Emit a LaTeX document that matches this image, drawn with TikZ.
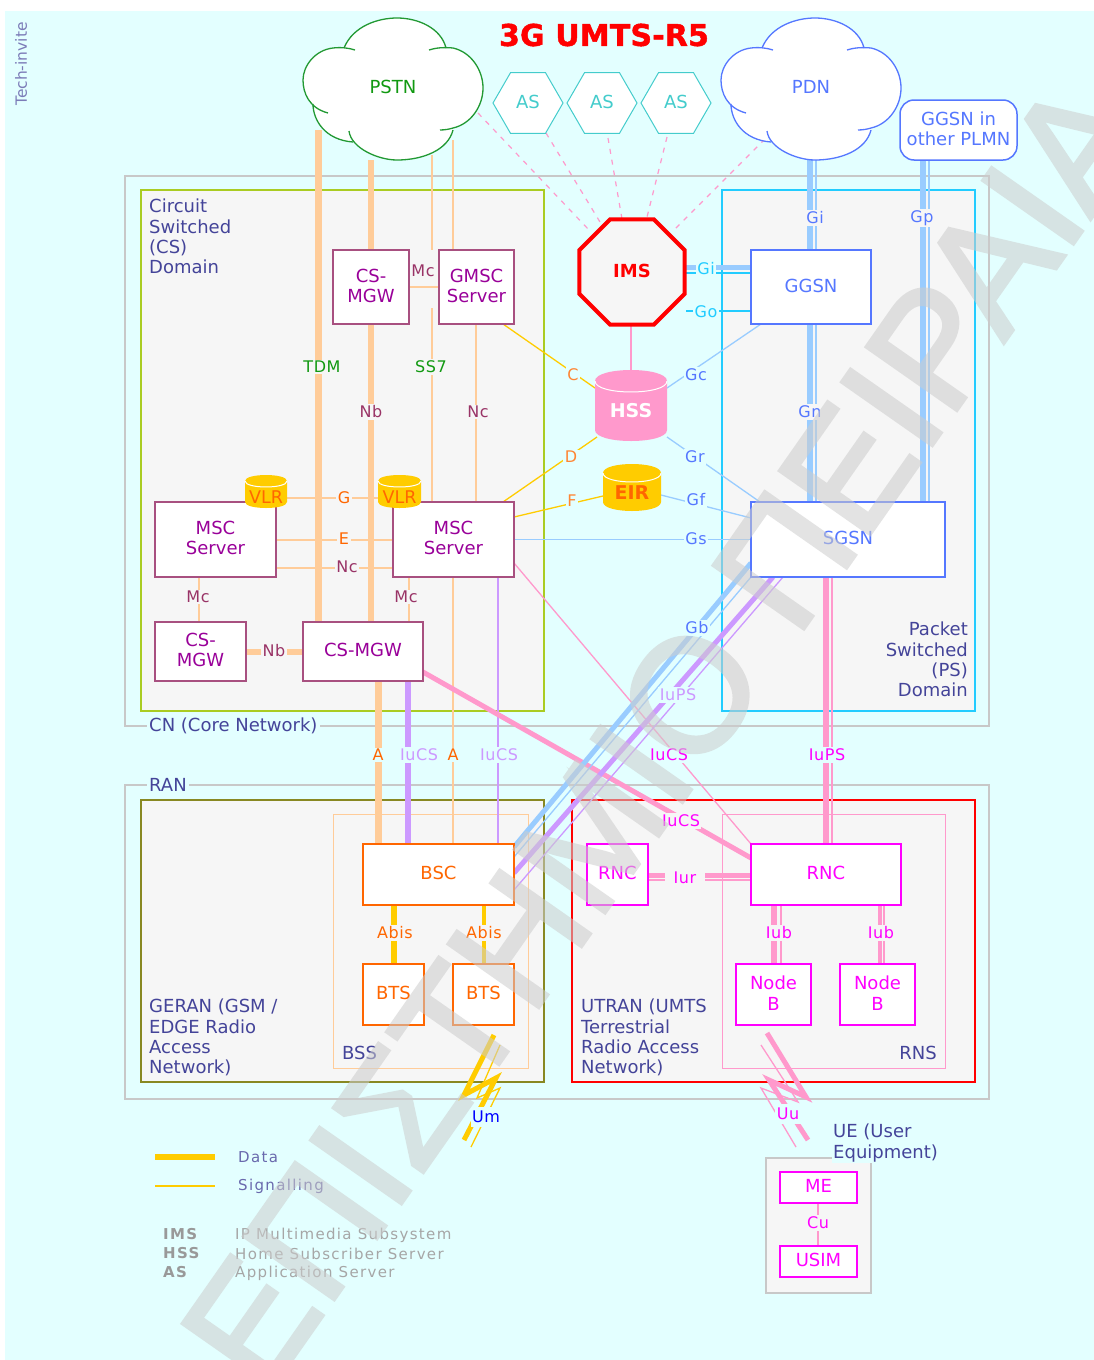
\documentclass[tikz,border=0pt]{standalone}
\usepackage{fontspec}
\setmainfont{DejaVu Sans}
\newfontfamily\wmfont[FakeBold=2.5]{Liberation Sans}
\newfontfamily\lsfont[LetterSpace=9]{DejaVu Sans}
\newfontfamily\lbfont[LetterSpace=3.5]{DejaVu Sans}
\newfontfamily\ttlfont[LetterSpace=0.5,BoldFeatures={FakeBold=1.5}]{DejaVu Sans}
\usetikzlibrary{shapes.geometric}
\definecolor{bgc}{HTML}{E3FFFF}
\definecolor{panel}{HTML}{F6F6F6}
\definecolor{frameg}{HTML}{C8C8C8}
\definecolor{dtext}{HTML}{444499}
\definecolor{csb}{HTML}{A85080}
\definecolor{csl}{HTML}{993366}
\definecolor{cst}{HTML}{990099}
\definecolor{lorange}{HTML}{FFCC99}
\definecolor{yel}{HTML}{FFCC00}
\definecolor{lblue}{HTML}{99CCFF}
\definecolor{lpurple}{HTML}{CC99FF}
\definecolor{lpink}{HTML}{FF99CC}
\definecolor{cyn}{HTML}{22CCFF}
\definecolor{blu}{HTML}{5577FF}
\definecolor{org}{HTML}{FF6600}
\definecolor{mag}{HTML}{FF00FF}
\definecolor{grn}{HTML}{119911}
\definecolor{grnc}{HTML}{229933}
\definecolor{aqua}{HTML}{44CCCC}
\definecolor{csframe}{HTML}{AACC22}
\definecolor{gerframe}{HTML}{888822}
\newcommand\bxf{\fontsize{18}{20.3}\selectfont}
\newcommand\lbf{\lbfont\fontsize{16}{18}\selectfont}
\newcommand\smf{\lsfont\fontsize{15}{18}\selectfont}
\tikzset{
 x=1pt,y=-1pt,
 basebox/.style={fill=white,font=\bxf,align=center,inner sep=0pt,outer sep=0pt,line width=1.5pt,text depth=3pt},
 csbox/.style={basebox,draw=csb,text=cst},
 psbox/.style={basebox,draw=blu,text=blu},
 orbox/.style={basebox,draw=org,text=org},
 mgbox/.style={basebox,draw=mag,text=mag},
 panelbox/.style={fill=panel,line width=1.5pt},
 anchorbox/.style={inner sep=0pt,outer sep=0pt},
 thicka/.style={line width=7pt},
 thickb/.style={line width=6pt},
 thickc/.style={line width=5pt},
 thin1/.style={line width=1.3pt},
 lab/.style={font=\lbf,inner sep=1.5pt,fill=bgc},
 labp/.style={font=\lbf,inner sep=1.5pt,fill=panel},
 dom/.style={font=\bxf,text=dtext,inner sep=0pt},
 imsdash/.style={lpink,line width=1.2pt,dash pattern=on 5pt off 6pt},
 ashex/.style={regular polygon,regular polygon sides=6,minimum size=70pt,inner sep=0pt,outer sep=0pt,draw=aqua,fill=white,line width=1pt,text=aqua,font=\bxf,text depth=3pt},
}
\newcommand\cloudshape[1]{%
 \fill[white] (-49,-40) .. controls (-40,-62) and (-15,-70) .. (4,-70) .. controls (25,-70) and (48,-60) .. (53,-40) -- cycle;
 \fill[white] (-63,-40) .. controls (-78,-38) and (-90,-22) .. (-90,-8) .. controls (-90,5) and (-84,20) .. (-65,25) -- cycle;
 \fill[white] (-80,16) .. controls (-80,32) and (-68,52) .. (-40,54) -- cycle;
 \fill[white] (-44,43) .. controls (-42,60) and (-15,72) .. (4,72) .. controls (30,72) and (55,62) .. (60,42) -- cycle;
 \fill[white] (60,-40) .. controls (78,-36) and (90,-18) .. (90,0) .. controls (90,18) and (78,36) .. (60,40) -- cycle;
 \fill[white] (-63,-40) -- (60,-40) -- (60,42) -- (-44,50) -- (-75,30) -- cycle;
 \draw[#1,line width=1.3pt] (-49,-40) .. controls (-40,-62) and (-15,-70) .. (4,-70) .. controls (25,-70) and (48,-60) .. (53,-40);
 \draw[#1,line width=1.3pt] (-38,-38) .. controls (-44,-40) and (-52,-41) .. (-60,-40) .. controls (-78,-38) and (-90,-22) .. (-90,-8) .. controls (-90,5) and (-84,20) .. (-65,25);
 \draw[#1,line width=1.3pt] (-80,16) .. controls (-80,32) and (-68,52) .. (-40,54);
 \draw[#1,line width=1.3pt] (-44,43) .. controls (-42,60) and (-15,72) .. (4,72) .. controls (30,72) and (55,62) .. (60,42);
 \draw[#1,line width=1.3pt] (36,-38) .. controls (42,-40) and (50,-41) .. (60,-40) .. controls (78,-36) and (90,-18) .. (90,0) .. controls (90,18) and (78,36) .. (60,40) .. controls (57,41) and (52,42) .. (47,42);
}
% name, left, right, top, bottom, ry, colour, text colour, label
\newcommand\dbcyl[9]{%
 \fill[#7] (#2,#4+#6) .. controls (#2,#4-#6/3) and (#3,#4-#6/3) .. (#3,#4+#6) -- (#3,#5-#6) .. controls (#3,#5+#6/3) and (#2,#5+#6/3) .. (#2,#5-#6) -- cycle;
 \draw[white,line width=1pt] (#2,#4+#6) .. controls (#2,#4+#6+#6*1.33) and (#3,#4+#6+#6*1.33) .. (#3,#4+#6);
 \node[inner sep=0pt,minimum width=#3pt-#2pt,minimum height=#5pt-#4pt,text=#8,yshift=-5.5pt] (#1) at ({(#2+#3)/2},{(#4+#5)/2}) {#9};
}
\begin{document}
\begin{tikzpicture}
\useasboundingbox (0,0) rectangle (1094,1360);
\fill[white] (0,0) rectangle (1094,1360);
\fill[bgc] (5,11) rectangle (1094,1360);
\node[rotate=90,font=\fontsize{15.5}{17}\selectfont,text=dtext!70,inner sep=0pt] (tech) at (21,64) {Tech-invite};
% guides
\foreach \n in {318,371,378,394,408,432,453,476,484,498,199,409,631,774,781,810,816,818,826,832,880,884,923,929}{\coordinate (v\n) at (\n,0);}
\foreach \n in {267,273,311,498,540,568,651,875,880}{\coordinate (h\n) at (0,\n);}
% frames
\draw[frameg,line width=1.5pt] (125,176) rectangle (989,726);
\draw[frameg,line width=1.5pt] (125,785) rectangle (989,1099);
\draw[panelbox,draw=csframe] (141,190) rectangle (544,711);
\draw[panelbox,draw=cyn] (722,190) rectangle (975,711);
\draw[panelbox,draw=gerframe] (141,800) rectangle (544,1082);
\draw[panelbox,draw=red] (572,800) rectangle (975,1082);
\draw[lorange,line width=1pt] (333,814) rectangle (528,1068);
\draw[lpink,line width=1pt] (722,814) rectangle (945,1068);
% panels' captions
\node[dom,align=left,anchor=north west] (csd) at (149,199) {Circuit\\Switched\\(CS)\\Domain};
\node[dom,align=right,anchor=north east] (psd) at (968,622) {Packet\\Switched\\(PS)\\Domain};
\node[dom,fill=bgc,inner sep=2pt,anchor=west] (cnl) at (147,726) {CN (Core Network)};
\node[dom,fill=bgc,inner sep=2pt,anchor=west] (ranl) at (147,785) {RAN};
\node[dom,align=left,anchor=north west] (ger) at (149,999) {GERAN (GSM /\\EDGE Radio\\Access\\Network)};
\node[dom,align=left,anchor=north west] (utr) at (581,999) {UTRAN (UMTS\\Terrestrial\\Radio Access\\Network)};
\node[dom,anchor=west] (bssl) at (342,1053) {BSS};
\node[dom,anchor=east] (rnsl) at (937,1053) {RNS};
% invisible anchors so that connectors can run under the boxes
\begin{scope}[every node/.append style={anchorbox}]
\node[minimum width=180pt,minimum height=142pt] (pstn) at (393,89) {};
\node[minimum width=180pt,minimum height=142pt] (pdn) at (811,89) {};
\node[minimum width=117pt,minimum height=60pt] (oth) at (958.5,130) {};
\node[minimum width=108pt,minimum height=106pt] (imsb) at (632,272) {};
\node[minimum width=76pt,minimum height=74pt] (mgwt) at (371,287) {};
\node[minimum width=75pt,minimum height=74pt] (gmsc) at (476.5,287) {};
\node[minimum width=120pt,minimum height=74pt] (ggsn) at (811,287) {};
\node[minimum width=72pt,minimum height=71pt] (hssb) at (631,405.5) {};
\node[minimum width=58pt,minimum height=47pt] (eirb) at (632,487.5) {};
\node[minimum width=121pt,minimum height=75pt] (msca) at (215.5,539.5) {};
\node[minimum width=121pt,minimum height=75pt] (mscb) at (453.5,539.5) {};
\node[minimum width=194pt,minimum height=75pt] (sgsn) at (848,539.5) {};
\node[minimum width=91pt,minimum height=59pt] (mgwl) at (200.5,651.5) {};
\node[minimum width=120pt,minimum height=59pt] (mgwb) at (363,651.5) {};
\node[minimum width=151pt,minimum height=61pt] (bsc) at (438.5,874.5) {};
\node[minimum width=61pt,minimum height=61pt] (rnca) at (617.5,874.5) {};
\node[minimum width=150pt,minimum height=61pt] (rncb) at (826,874.5) {};
\node[minimum width=61pt,minimum height=61pt] (btsa) at (393.5,994.5) {};
\node[minimum width=61pt,minimum height=61pt] (btsb) at (483.5,994.5) {};
\node[minimum width=75pt,minimum height=61pt] (nba) at (773.5,994.5) {};
\node[minimum width=75pt,minimum height=61pt] (nbb) at (877.5,994.5) {};
\node[minimum width=77pt,minimum height=31pt] (me) at (818.5,1187.5) {};
\node[minimum width=77pt,minimum height=31pt] (usim) at (818.5,1261.5) {};
\node[minimum width=42pt,minimum height=33pt] (vlra) at (266,491.5) {};
\node[minimum width=43pt,minimum height=33pt] (vlrb) at (399.5,491.5) {};
\node[minimum width=70pt,minimum height=60pt] (asa) at (528,103) {};
\node[minimum width=70pt,minimum height=60pt] (asb) at (602,103) {};
\node[minimum width=70pt,minimum height=60pt] (asc) at (676,103) {};
\end{scope}
% dashed IMS links
\draw[imsdash] ([xshift=85pt,yshift=-24pt]pstn.center) -- ([xshift=-43pt,yshift=42pt]imsb.center);
\draw[imsdash] ([xshift=18pt]asa.south) -- ([xshift=-32pt,yshift=-3pt]imsb.north);
\draw[imsdash] ([xshift=6pt,yshift=-5pt]asb.south) -- ([xshift=-10pt]imsb.north);
\draw[imsdash] ([xshift=-9pt,yshift=-4pt]asc.south) -- ([xshift=15pt,yshift=2pt]imsb.north);
\draw[imsdash] ([xshift=-46pt,yshift=21pt]pdn.south) -- ([xshift=40pt,yshift=-13pt]imsb.north);
% circuit side connectors
\draw[lorange,thicka] ([yshift=30pt]pstn.south -| v318) -- (mgwb.north -| v318);
\draw[lorange,thickb] (pstn.south -| v371) -- (mgwt.north -| v371);
\draw[lorange,thickb] (mgwt.south -| v371) -- (mgwb.north -| v371);
\draw[lorange,thin1] ([yshift=5pt]pstn.south -| v432) -- (mgwt.north -| v432);
\coordinate (ssgap) at (432,308);
\draw[lorange,thin1] (ssgap) -- (mscb.north -| v432);
\draw[lorange,thin1] ([yshift=20pt]pstn.south -| v453) -- (gmsc.north -| v453);
\draw[lorange,thin1] (mgwt.east) -- (gmsc.west);
\draw[lorange,thin1] (gmsc.south -| v476) -- (mscb.north -| v476);
\draw[lorange,thin1] (vlra.east |- h498) -- (vlrb.west |- h498);
\draw[lorange,thin1] (msca.east |- h540) -- (mscb.west |- h540);
\draw[lorange,thin1] (msca.east |- h568) -- (mscb.west |- h568);
\draw[lorange,thin1] (msca.south -| v199) -- (mgwl.north -| v199);
\draw[lorange,thin1] (mscb.south -| v409) -- (mgwb.north -| v409);
\draw[lorange,thickb] (mgwl.east) -- (mgwb.west);
\draw[yel,thin1] ([xshift=26.5pt]gmsc.south) -- ([yshift=17.5pt]hssb.west);
\draw[yel,thin1] ([xshift=49.5pt]mscb.north) -- ([xshift=2pt,yshift=-31.5pt]hssb.west);
\draw[yel,thin1] ([yshift=22.5pt]mscb.east) -- ([yshift=-8.5pt]eirb.west);
\draw[lblue,thin1] (mscb.east) -- (sgsn.west);
\draw[lblue,thin1] ([yshift=-31.5pt]hssb.east) -- ([xshift=-88pt]sgsn.north);
\draw[lblue,thin1] ([yshift=17.5pt]hssb.east) -- ([xshift=-50pt]ggsn.south);
\draw[lblue,thin1] ([yshift=-7.5pt]eirb.east) -- ([yshift=21.5pt]sgsn.west);
\draw[lpink,thin1] (imsb.south -| v631) -- (hssb.north -| v631);
% IMS - GGSN
\draw[lblue,thickc] (imsb.east |- h267) -- (ggsn.west |- h267);
\draw[cyn,thin1] (imsb.east |- h273) -- (ggsn.west |- h273);
\draw[cyn,thin1] (imsb.east |- h311) -- (ggsn.west |- h311);
% packet side
\draw[lblue,thickb] (pdn.south -| v810) -- (ggsn.north -| v810);
\draw[lblue,thin1] (pdn.south -| v816) -- (ggsn.north -| v816);
\draw[lblue,thickb] (ggsn.south -| v810) -- (sgsn.north -| v810);
\draw[lblue,thin1] (ggsn.south -| v816) -- (sgsn.north -| v816);
\draw[lblue,thickb] (oth.south -| v923) -- (sgsn.north -| v923);
\draw[lblue,thin1] (oth.south -| v929) -- (sgsn.north -| v929);
% CN - RAN
\draw[lorange,thicka] (mgwb.south -| v378) -- (bsc.north -| v378);
\draw[lpurple,thickb] (mgwb.south -| v408) -- (bsc.north -| v408);
\draw[lorange,thin1] (mscb.south -| v453) -- (bsc.north -| v453);
\draw[lpurple,thin1] (mscb.south -| v498) -- (bsc.north -| v498);
\draw[lpink,thickc] ([yshift=-20.5pt]mgwb.east) -- ([yshift=16.5pt]rncb.west);
\draw[lpink,thin1] ([yshift=-23.5pt]mscb.east) -- (rncb.north west);
\draw[lpink,thickb] (sgsn.south -| v826) -- (rncb.north -| v826);
\draw[lpink,thin1] (sgsn.south -| v832) -- (rncb.north -| v832);
\draw[lblue,thickc] ([yshift=27.5pt]bsc.east) -- ([yshift=-23.5pt]sgsn.west);
\draw[lblue,thin1] ([yshift=17.5pt]bsc.east) -- (sgsn.south west);
\draw[lpurple,thickc] ([yshift=1.5pt]bsc.east) -- ([xshift=-75pt]sgsn.south);
\draw[lpurple,thin1] ([yshift=-15.5pt]bsc.east) -- ([xshift=-65pt]sgsn.south);
% RAN internal
\draw[lpink,thickc] (rnca.east |- h875) -- (rncb.west |- h875);
\draw[lpink,thin1] (rnca.east |- h880) -- (rncb.west |- h880);
\draw[lpink,thickb] (rncb.south -| v774) -- (nba.north -| v774);
\draw[lpink,thin1] (rncb.south -| v781) -- (nba.north -| v781);
\draw[lpink,line width=4pt] (rncb.south -| v880) -- (nbb.north -| v880);
\draw[lpink,thin1] (rncb.south -| v884) -- (nbb.north -| v884);
\draw[yel,thickb] (bsc.south -| v394) -- (btsa.north -| v394);
\draw[yel,line width=4pt] (bsc.south -| v484) -- (btsb.north -| v484);
% radio links
\coordinate (umt) at (464,1140); \coordinate (umn) at (471,1147);
\coordinate (uut) at (808,1140); \coordinate (uun) at (796,1147);
\draw[yel,thickc,line join=miter] ([xshift=10.5pt,yshift=-10pt]btsb.south) -- (464,1095) -- (496,1078) -- (umt);
\draw[yel,thin1] ([xshift=16.5pt,yshift=-20pt]btsb.south) -- (477,1098) -- (500,1088) -- (umn);
\draw[lpink,thickc,line join=miter] ([xshift=-6.5pt,yshift=-8pt]nba.south) -- (806,1097) -- (769,1080) -- (uut);
\draw[lpink,thin1] ([xshift=-12.5pt,yshift=-20pt]nba.south) -- (798,1102) -- (761,1088) -- (uun);
% connector labels
\node[labp,text=grn] (ltdm) at (322,367) {TDM};
\node[labp,text=grn] (lss7) at (431,367) {SS7};
\node[labp,text=csl] (lnb) at (371,412) {Nb};
\node[labp,text=csl] (lnc) at (478,412) {Nc};
\node[labp,text=csl] (lmc) at (423,271) {Mc};
\node[labp,text=org] (lg) at (344,498) {G};
\node[labp,text=org] (le) at (344,539) {E};
\node[labp,text=csl] (lnc2) at (347,567) {Nc};
\node[labp,text=csl] (lmca) at (198,597) {Mc};
\node[labp,text=csl] (lmcb) at (406,597) {Mc};
\node[labp,text=csl] (lnb2) at (274,651) {Nb};
\node[lab,text=org!80!white] (lc) at (573,375) {C};
\node[lab,text=org!80!white] (ld) at (571,457) {D};
\node[lab,text=org!80!white] (lf) at (572,501) {F};
\node[lab,text=blu] (lgc) at (696,375) {Gc};
\node[lab,text=blu] (lgr) at (695,457) {Gr};
\node[lab,text=blu] (lgf) at (696,500) {Gf};
\node[lab,text=blu] (lgs) at (696,539) {Gs};
\node[lab,text=blu] (lgb) at (697,628) {Gb};
\node[lab,text=cyn] (lgi2) at (706,269) {Gi};
\node[lab,text=cyn] (lgo) at (706,312) {Go};
\node[labp,text=blu] (lgi) at (815,218) {Gi};
\node[labp,text=blu] (lgp) at (922,218) {Gp};
\node[labp,text=blu] (lgn) at (810,412) {Gn};
\node[lab,text=lpurple] (liups) at (678,695) {IuPS};
\node[lab,text=org] (laa) at (378,755) {A};
\node[lab,text=lpurple] (liua) at (419,755) {IuCS};
\node[lab,text=org] (lab2) at (453,755) {A};
\node[lab,text=lpurple] (liub) at (499,755) {IuCS};
\node[lab,text=mag] (liuc) at (669,755) {IuCS};
\node[lab,text=mag] (liup) at (827,755) {IuPS};
\node[labp,text=mag] (liud) at (681,821) {IuCS};
\node[labp,text=mag,inner xsep=9pt] (liur) at (685,878) {Iur};
\node[labp,text=mag] (liuba) at (779,933) {Iub};
\node[labp,text=mag] (liubb) at (881,933) {Iub};
\node[labp,text=org] (labi) at (395,933) {Abis};
\node[labp,text=org] (labj) at (484,933) {Abis};
\node[lab,text=blue,inner ysep=4pt] (lum) at (486,1117) {Um};
\node[lab,text=mag,inner ysep=4pt] (luu) at (788,1114) {Uu};
% clouds and boxes
\begin{scope}[shift={(393,88)}]\cloudshape{grnc}\end{scope}
\begin{scope}[shift={(811,88)}]\cloudshape{blu}\end{scope}
\node[text=grn,font=\bxf,yshift=2pt] (pstnt) at (pstn.center) {PSTN};
\node[text=blu,font=\bxf,yshift=2pt] (pdnt) at (pdn.center) {PDN};
\node[psbox,rounded corners=14pt,minimum width=117pt,minimum height=60pt] (otht) at (oth) {GGSN in\\other PLMN};
\node[ashex] (ast1) at (asa) {AS};
\node[ashex] (ast2) at (asb) {AS};
\node[ashex] (ast3) at (asc) {AS};
\node[regular polygon,regular polygon sides=8,minimum size=114pt,inner sep=0pt,outer sep=0pt,draw=red,fill=panel,line width=4pt,text=red,font=\bxf\bfseries,text depth=3pt] (ims) at (imsb) {IMS};
\node[csbox,minimum width=76pt,minimum height=74pt] (mgwtt) at (mgwt) {CS-\\MGW};
\node[csbox,minimum width=75pt,minimum height=74pt] (gmsct) at (gmsc) {GMSC\\Server};
\node[psbox,minimum width=120pt,minimum height=74pt] (ggsnt) at (ggsn) {GGSN};
\dbcyl{hss}{595}{667}{370}{441}{11}{lpink}{white}{\fontsize{19}{22}\selectfont\bfseries HSS}
\dbcyl{eir}{603}{661}{464}{511}{9}{yel}{org}{\fontsize{19}{22}\selectfont\bfseries EIR}
\node[csbox,minimum width=121pt,minimum height=75pt] (mscat) at (msca) {MSC\\Server};
\node[csbox,minimum width=121pt,minimum height=75pt] (mscbt) at (mscb) {MSC\\Server};
\node[psbox,minimum width=194pt,minimum height=75pt] (sgsnt) at (sgsn) {SGSN};
\dbcyl{vlrat}{245}{287}{475}{508}{6}{yel}{org}{\fontsize{17.5}{20}\selectfont VLR}
\dbcyl{vlrbt}{378}{421}{475}{508}{6}{yel}{org}{\fontsize{17.5}{20}\selectfont VLR}
\node[csbox,minimum width=91pt,minimum height=59pt] (mgwlt) at (mgwl) {CS-\\MGW};
\node[csbox,minimum width=120pt,minimum height=59pt] (mgwbt) at (mgwb) {CS-MGW};
\node[orbox,minimum width=151pt,minimum height=61pt] (bsct) at (bsc) {BSC};
\node[mgbox,minimum width=61pt,minimum height=61pt] (rncat) at (rnca) {RNC};
\node[mgbox,minimum width=150pt,minimum height=61pt] (rncbt) at (rncb) {RNC};
\node[orbox,minimum width=61pt,minimum height=61pt] (btsat) at (btsa) {BTS};
\node[orbox,minimum width=61pt,minimum height=61pt] (btsbt) at (btsb) {BTS};
\node[mgbox,minimum width=75pt,minimum height=61pt] (nbat) at (nba) {Node\\B};
\node[mgbox,minimum width=75pt,minimum height=61pt] (nbbt) at (nbb) {Node\\B};
% UE
\draw[frameg,fill=panel,line width=2pt] (766,1158) rectangle (871,1293);
\node[dom,fill=bgc,align=left,anchor=north west,inner sep=1pt] (uel) at (832,1123) {UE (User\\Equipment)};
\draw[lpink,thin1] (me.south -| v818) -- (usim.north -| v818);
\node[mgbox,minimum width=77pt,minimum height=31pt] (met) at (me) {ME};
\node[mgbox,minimum width=77pt,minimum height=31pt] (usimt) at (usim) {USIM};
\node[labp,text=mag] (lcu) at (818,1223) {Cu};
% title
\node[text=red,font=\ttlfont\fontsize{30}{34}\selectfont\bfseries,inner sep=0pt] (title) at (604,35) {3G UMTS-R5};
% legend
\coordinate (lda) at (155,1157); \coordinate (ldb) at (215,1157);
\coordinate (lsa) at (155,1186); \coordinate (lsb) at (215,1186);
\draw[yel,thickb] (lda) -- (ldb);
\draw[yel,thin1] (lsa) -- (lsb);
\node[font=\smf,text=dtext!80,anchor=west,inner sep=0pt] (ld1) at (238,1157) {Data};
\node[font=\smf,text=dtext!80,anchor=west,inner sep=0pt] (ld2) at (238,1186) {Signalling};
\node[font=\smf\bfseries,text=gray!80,anchor=west,inner sep=0pt] (ab1) at (163,1234) {IMS};
\node[font=\smf\bfseries,text=gray!80,anchor=west,inner sep=0pt] (ab2) at (163,1253) {HSS};
\node[font=\smf\bfseries,text=gray!80,anchor=west,inner sep=0pt] (ab3) at (163,1272) {AS};
\node[font=\smf,text=gray!70,anchor=west,inner sep=0pt] (de1) at (235,1235) {IP Multimedia Subsystem};
\node[font=\smf,text=gray!70,anchor=west,inner sep=0pt] (de2) at (235,1254) {Home Subscriber Server};
\node[font=\smf,text=gray!70,anchor=west,inner sep=0pt] (de3) at (235,1273) {Application Server};
% watermark
\begin{scope}
\clip (0,0) rectangle (1094,1360);
\begin{scope}[transparency group,opacity=.55,every node/.style={rotate=55,inner sep=0pt,outer sep=0pt,text=gray!40,font=\wmfont\fontsize{160}{170}\selectfont}]
\node (wmo) at (690,695) {Ο};
\node[anchor=east] (wml) at (wmo.west) {ΕΠΙΣΤΗΜΙ};
\node[anchor=west] (wmr) at (wmo.east) {\ ΠΕΙΡΑΙΑ};
\end{scope}
\end{scope}
\end{tikzpicture}
\end{document}
